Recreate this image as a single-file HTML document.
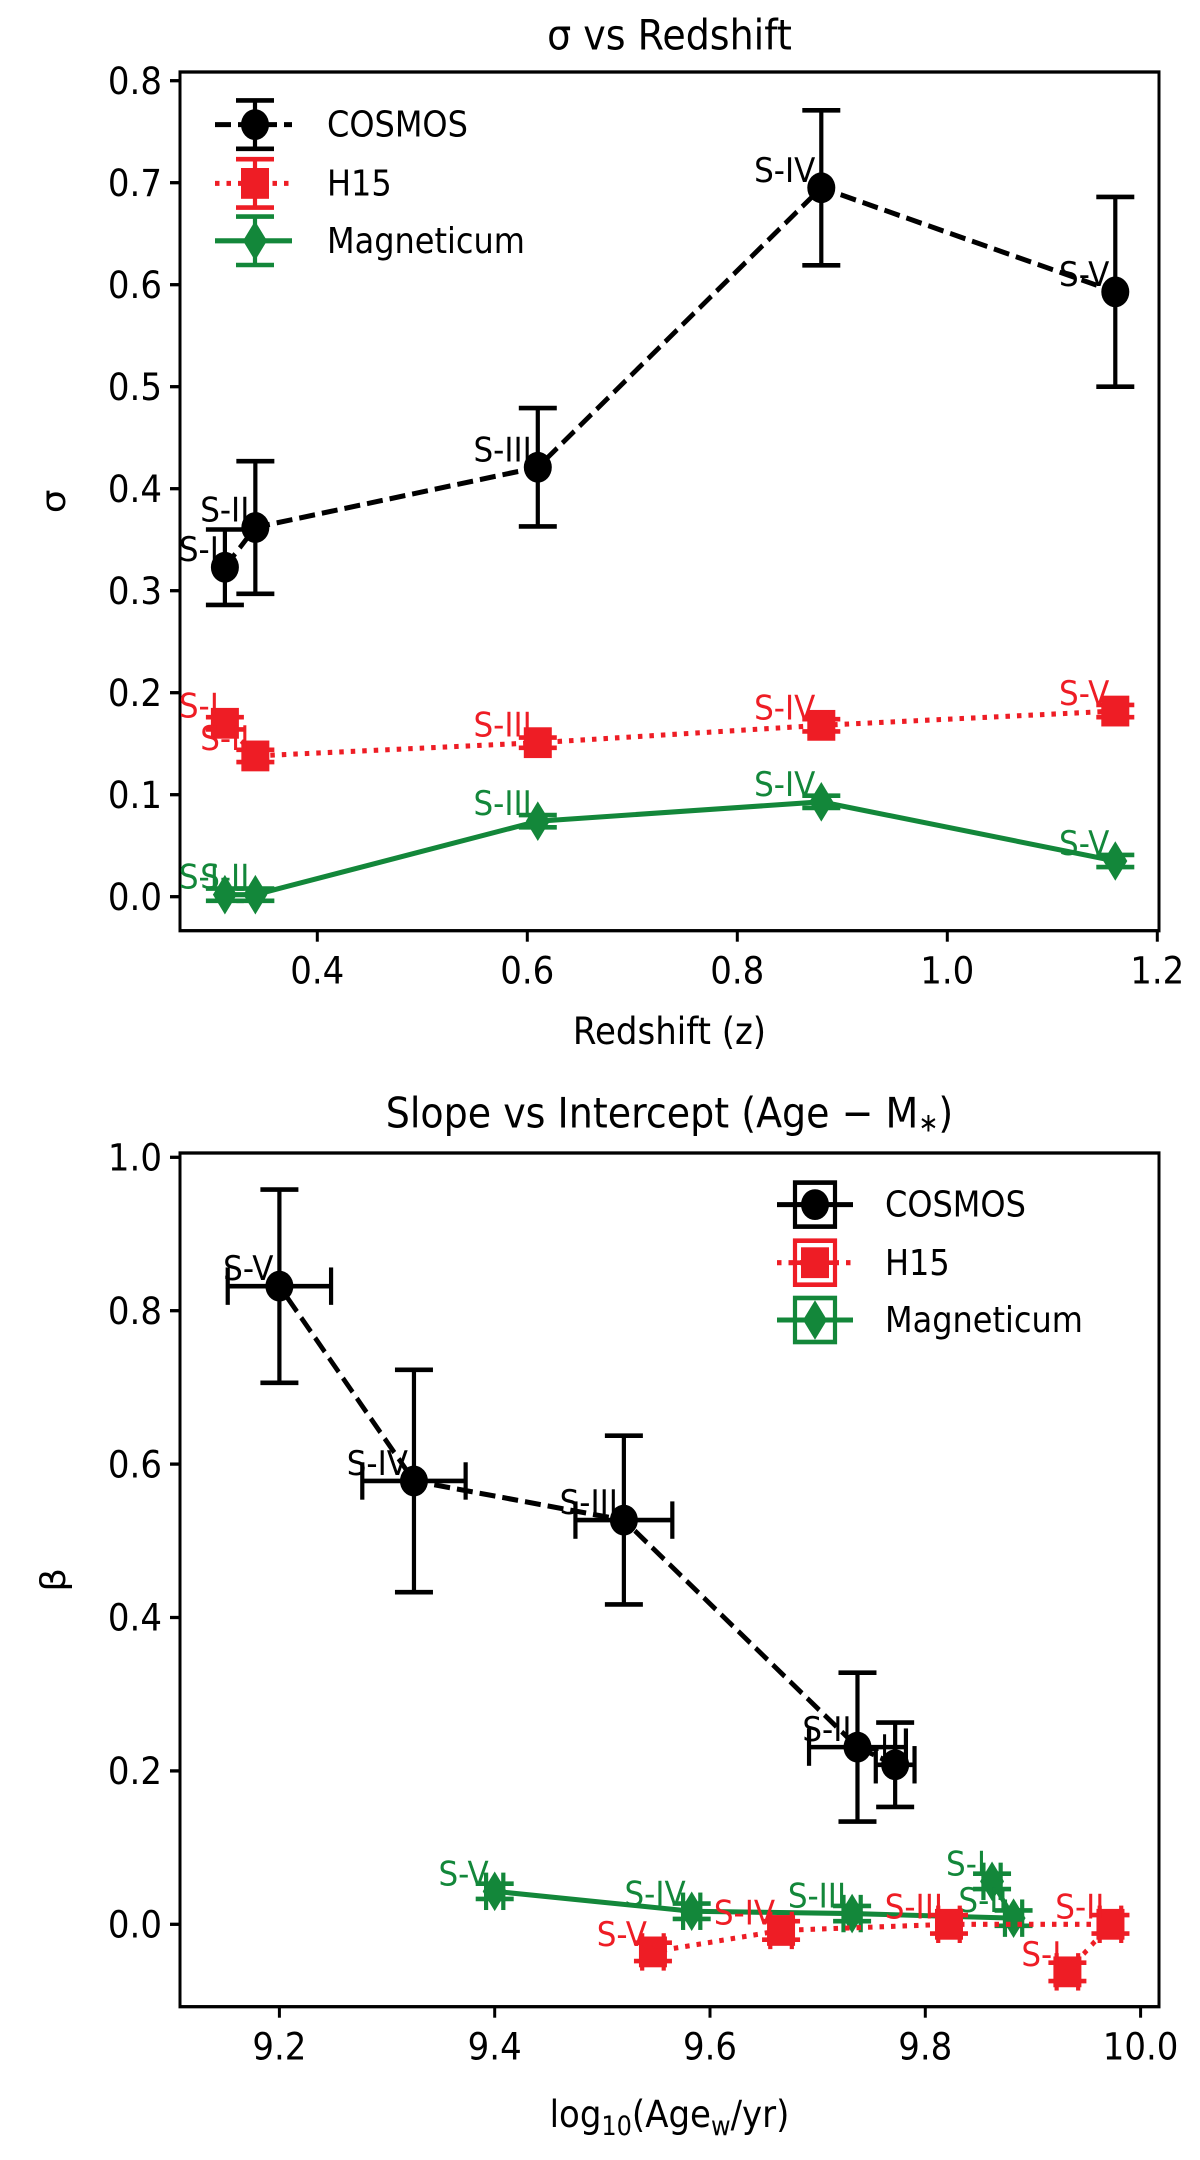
<!DOCTYPE html>
<html><head><meta charset="utf-8"><style>
html,body{margin:0;padding:0;background:#fff;}
svg{display:block;font-family:"DejaVu Sans","Liberation Sans",sans-serif;}
</style></head><body>
<svg id="fig" width="1200" height="2160" viewBox="0 0 1200 2160" xmlns="http://www.w3.org/2000/svg">
<g id="root" transform="scale(1,1.1)"></g>
</svg>
<script>
// ---- Panel 1 data: sigma vs redshift ----
const p1Labels = ["S-I","S-II","S-III","S-IV","S-V"];
const p1CosmosX = [0.312, 0.341, 0.610, 0.880, 1.160];
const p1CosmosY = [0.323, 0.362, 0.421, 0.695, 0.593];
const p1CosmosErr = [0.037, 0.065, 0.058, 0.076, 0.093];
const p1H15X = [0.312, 0.341, 0.610, 0.880, 1.160];
const p1H15Y = [0.170, 0.138, 0.151, 0.168, 0.182];
const p1H15Err = [0.006, 0.006, 0.005, 0.006, 0.006];
const p1MagX = [0.312, 0.341, 0.610, 0.880, 1.160];
const p1MagY = [0.002, 0.002, 0.074, 0.093, 0.035];
const p1MagErr = [0.006, 0.006, 0.006, 0.006, 0.006];
const p1XTicks = [0.4, 0.6, 0.8, 1.0, 1.2];
const p1YTicks = [0.0, 0.1, 0.2, 0.3, 0.4, 0.5, 0.6, 0.7, 0.8];

// ---- Panel 2 data: slope vs intercept ----
const p2Labels = ["S-I","S-II","S-III","S-IV","S-V"];
const p2CosmosX = [9.772, 9.737, 9.520, 9.325, 9.200];
const p2CosmosY = [0.208, 0.231, 0.527, 0.578, 0.832];
const p2CosmosXErr = [0.018, 0.045, 0.045, 0.048, 0.048];
const p2CosmosYErr = [0.055, 0.097, 0.110, 0.145, 0.126];
const p2H15X = [9.932, 9.972, 9.822, 9.666, 9.547];
const p2H15Y = [-0.062, 0.000, 0.000, -0.008, -0.036];
const p2H15XErr = [0.010, 0.010, 0.010, 0.010, 0.010];
const p2H15YErr = [0.012, 0.012, 0.012, 0.012, 0.012];
const p2MagX = [9.862, 9.882, 9.732, 9.583, 9.400];
const p2MagY = [0.056, 0.008, 0.014, 0.017, 0.043];
const p2MagXErr = [0.008, 0.008, 0.008, 0.008, 0.008];
const p2MagYErr = [0.010, 0.010, 0.010, 0.010, 0.010];
const p2XTicks = [9.2, 9.4, 9.6, 9.8, 10.0];
const p2YTicks = [0.0, 0.2, 0.4, 0.6, 0.8, 1.0];

const S = 1.1;
const NS = "http://www.w3.org/2000/svg";
const root = document.getElementById('root');
const RED = "#ee1d25", GREEN = "#13873a";
const LW = 4.6, EW = 4.2;

function el(tag, attrs, parent, text){
  const e = document.createElementNS(NS, tag);
  for (const k in attrs) e.setAttribute(k, attrs[k]);
  if (text !== undefined) e.textContent = text;
  (parent || root).appendChild(e);
  return e;
}
function iy(y){ return y / S; }

const ax1 = {x0:180, x1:1159, y0:72, y1:930.7,
  x: v => 317.3 + (v - 0.4) * 1050,
  y: v => 896.7 - v * 1020};
const ax2 = {x0:180, x1:1159, y0:1153, y1:2006.7,
  x: v => 279.4 + (v - 9.2) * 1076.5,
  y: v => 1924.3 - v * 767};

function marker(g, type, cx, cy, color){
  let m;
  if (type === 'o') m = el('circle', {cx:cx, cy:iy(cy), r:14, fill:color}, g);
  else if (type === 's') m = el('rect', {x:cx-14, y:iy(cy)-14, width:28, height:28, fill:color}, g);
  else m = el('polygon', {points:`${cx},${iy(cy)-18} ${cx+12},${iy(cy)} ${cx},${iy(cy)+18} ${cx-12},${iy(cy)}`, fill:color}, g);
  
  
}

function drawAxes(ax, xt, yt, xfmt, yfmt, title, xlabel, ylabel, titleY, xlabelY, prefix){
  const g = el('g', {}, root);
  
  
  const f = el('rect', {x:ax.x0, y:iy(ax.y0), width:ax.x1-ax.x0, height:iy(ax.y1)-iy(ax.y0), fill:'none', stroke:'#000', 'stroke-width':3}, g);
  
  
  xt.forEach(v => {
    const x = ax.x(v);
    el('line', {x1:x, x2:x, y1:iy(ax.y1), y2:iy(ax.y1)+10, stroke:'#000', 'stroke-width':3}, g);
    const t = el('text', {x:x, y:iy(ax.y1)+48, 'text-anchor':'middle', 'font-size':34, fill:'#000'}, g, xfmt(v));
    
    
  });
  yt.forEach(v => {
    const y = ax.y(v);
    el('line', {x1:ax.x0-10, x2:ax.x0, y1:iy(y), y2:iy(y), stroke:'#000', 'stroke-width':3}, g);
    const t = el('text', {x:ax.x0-18, y:iy(y)+12, 'text-anchor':'end', 'font-size':34, fill:'#000'}, g, yfmt(v));
    
    
  });
  const tt = el('text', {x:(ax.x0+ax.x1)/2, y:iy(titleY)+13, 'text-anchor':'middle', 'font-size':38, fill:'#000'}, g);
  tt.innerHTML = title;
  
  
  const xl = el('text', {x:(ax.x0+ax.x1)/2, y:iy(xlabelY)+12, 'text-anchor':'middle', 'font-size':34, fill:'#000'}, g);
  xl.innerHTML = xlabel;
  
  
  const ycy = iy((ax.y0+ax.y1)/2);
  const yl = el('text', {x:0, y:0, 'text-anchor':'middle', 'font-size':34, fill:'#000', transform:`translate(65,${ycy}) rotate(-90)`}, g, ylabel);
  
  
}

function series(ax, xs, ys, xerr, yerr, labels, color, mtype, dash, name){
  const g = el('g', {}, root);
  
  
  const pts = xs.map((v,i) => `${ax.x(v)},${iy(ax.y(ys[i]))}`).join(' ');
  const ln = el('polyline', {points:pts, fill:'none', stroke:color, 'stroke-width':LW, 'stroke-dasharray':dash}, g);
  
  
  xs.forEach((v,i) => {
    const cx = ax.x(v), cy = ax.y(ys[i]);
    if (yerr){
      const ya = ax.y(ys[i]+yerr[i]), yb = ax.y(ys[i]-yerr[i]);
      el('line', {x1:cx, x2:cx, y1:iy(ya), y2:iy(yb), stroke:color, 'stroke-width':EW}, g);
      el('line', {x1:cx-19, x2:cx+19, y1:iy(ya), y2:iy(ya), stroke:color, 'stroke-width':EW}, g);
      el('line', {x1:cx-19, x2:cx+19, y1:iy(yb), y2:iy(yb), stroke:color, 'stroke-width':EW}, g);
    }
    if (xerr){
      const xa = ax.x(v-xerr[i]), xb = ax.x(v+xerr[i]);
      el('line', {x1:xa, x2:xb, y1:iy(cy), y2:iy(cy), stroke:color, 'stroke-width':EW}, g);
      el('line', {x1:xa, x2:xa, y1:iy(cy)-17, y2:iy(cy)+17, stroke:color, 'stroke-width':EW}, g);
      el('line', {x1:xb, x2:xb, y1:iy(cy)-17, y2:iy(cy)+17, stroke:color, 'stroke-width':EW}, g);
    }
    marker(g, mtype, cx, cy, color);
    const t = el('text', {x:cx-6, y:iy(cy-6), 'text-anchor':'end', 'font-size':31, fill:color}, g, labels[i]);
    
    
  });
}

function legend(x0, x1, mx, tx, ys, names, colors, types, dashes, boxed, prefix){
  const g = el('g', {}, root);
  
  
  names.forEach((n,i) => {
    const y = iy(ys[i]);
    const e = el('g', {}, g);
    
    
    el('line', {x1:x0, x2:x1, y1:y, y2:y, stroke:colors[i], 'stroke-width':LW, 'stroke-dasharray':dashes[i]}, e);
    if (boxed){
      el('rect', {x:mx-20, y:y-20, width:40, height:40, fill:'none', stroke:colors[i], 'stroke-width':EW}, e);
      el('line', {x1:mx-20, x2:mx+20, y1:y, y2:y, stroke:colors[i], 'stroke-width':EW}, e);
    } else {
      el('line', {x1:mx, x2:mx, y1:y-22, y2:y+22, stroke:colors[i], 'stroke-width':EW}, e);
      el('line', {x1:mx-19, x2:mx+19, y1:y-22, y2:y-22, stroke:colors[i], 'stroke-width':EW}, e);
      el('line', {x1:mx-19, x2:mx+19, y1:y+22, y2:y+22, stroke:colors[i], 'stroke-width':EW}, e);
    }
    marker(e, types[i], mx, ys[i], colors[i]);
    el('text', {x:tx, y:y+11, 'font-size':32, fill:'#000'}, e, n);
  });
}

drawAxes(ax1, p1XTicks, p1YTicks, v => v.toFixed(1), v => v.toFixed(1),
  'σ vs Redshift', 'Redshift (z)', 'σ', 35, 1031, 'top');
series(ax1, p1MagX, p1MagY, null, p1MagErr, p1Labels, GREEN, 'd', 'none', 'top-magneticum');
series(ax1, p1H15X, p1H15Y, null, p1H15Err, p1Labels, RED, 's', '4.5,7', 'top-h15');
series(ax1, p1CosmosX, p1CosmosY, null, p1CosmosErr, p1Labels, '#000', 'o', '16,7', 'top-cosmos');
legend(215, 292, 255, 327, [124.6, 183.4, 240.8], ['COSMOS','H15','Magneticum'],
  ['#000', RED, GREEN], ['o','s','d'], ['16,7','4.5,7','none'], false, 'top');

drawAxes(ax2, p2XTicks, p2YTicks, v => v.toFixed(1), v => v.toFixed(1),
  'Slope vs Intercept (Age − M<tspan font-size="24" dy="4">∗</tspan><tspan dy="-4">)</tspan>',
  'log<tspan font-size="24" dy="7">10</tspan><tspan dy="-7">(Age</tspan><tspan font-size="24" dy="7">w</tspan><tspan dy="-7">/yr)</tspan>',
  'β', 1113, 2114, 'bottom');
series(ax2, p2MagX, p2MagY, p2MagXErr, p2MagYErr, p2Labels, GREEN, 'd', 'none', 'bottom-magneticum');
series(ax2, p2H15X, p2H15Y, p2H15XErr, p2H15YErr, p2Labels, RED, 's', '4.5,7', 'bottom-h15');
series(ax2, p2CosmosX, p2CosmosY, p2CosmosXErr, p2CosmosYErr, p2Labels, '#000', 'o', '16,7', 'bottom-cosmos');
legend(777, 853, 815, 885, [1204.6, 1262.7, 1320], ['COSMOS','H15','Magneticum'],
  ['#000', RED, GREEN], ['o','s','d'], ['none','4.5,7','none'], true, 'bottom');
</script>
</body></html>
